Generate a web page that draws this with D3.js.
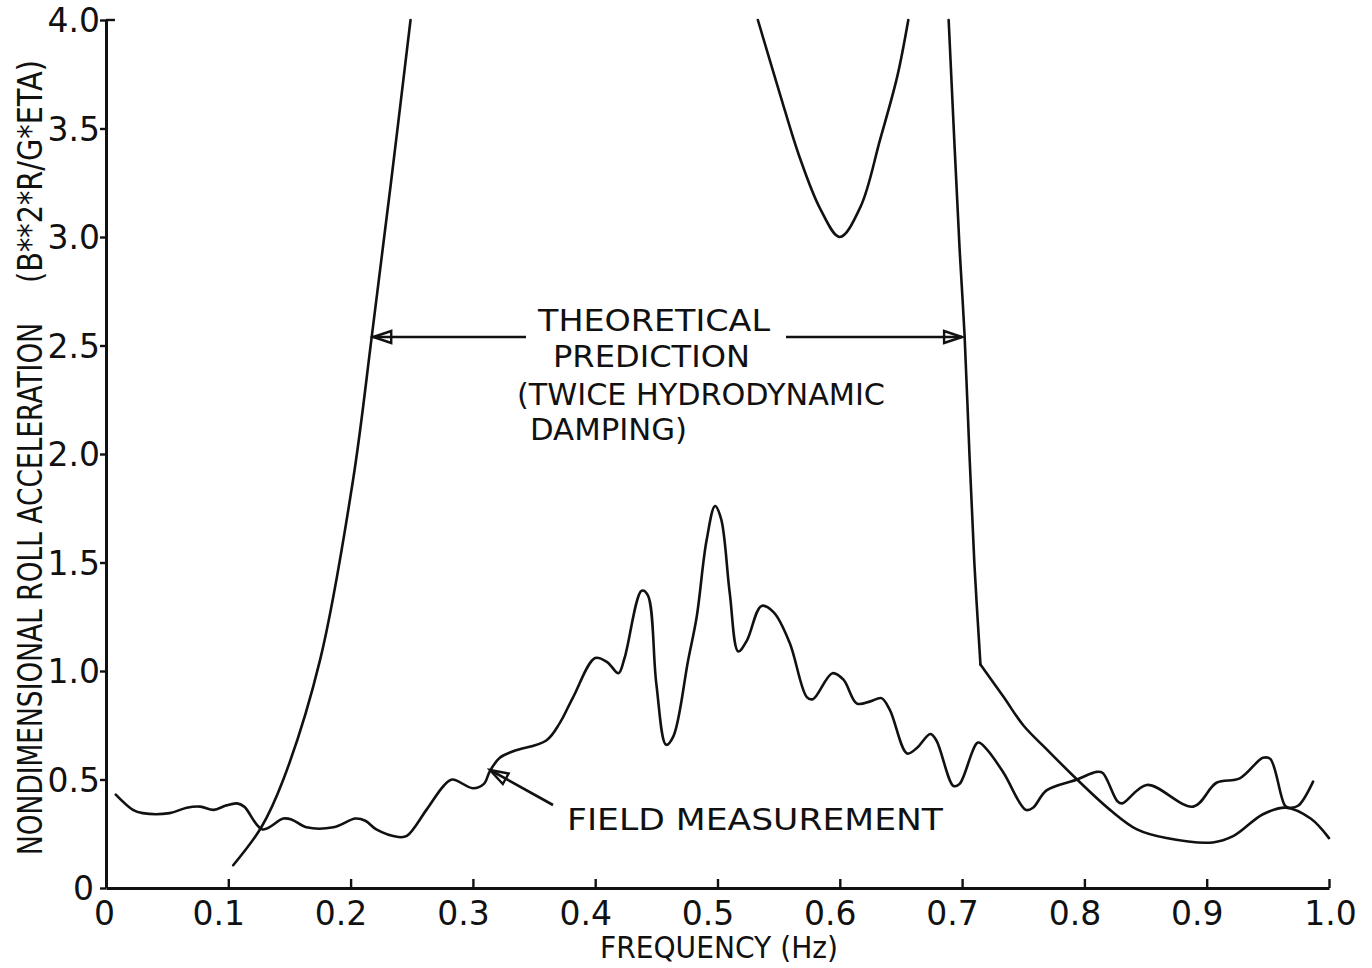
<!DOCTYPE html>
<html><head><meta charset="utf-8">
<script src="https://cdn.jsdelivr.net/npm/d3@7"></script>
<style>
body{margin:0;background:#fff}
svg{display:block}
text{font-family:"DejaVu Sans","Liberation Sans",sans-serif;fill:#111}
</style>
</head><body>
<svg id="c" width="1372" height="968"></svg>
<script>
// ---- data ----
const xTicks = [0, 0.1, 0.2, 0.3, 0.4, 0.5, 0.6, 0.7, 0.8, 0.9, 1.0];
const xTickLabels = ["0", "0.1", "0.2", "0.3", "0.4", "0.5", "0.6", "0.7", "0.8", "0.9", "1.0"];
const yTicks = [0, 0.5, 1.0, 1.5, 2.0, 2.5, 3.0, 3.5, 4.0];
const yTickLabels = ["0", "0.5", "1.0", "1.5", "2.0", "2.5", "3.0", "3.5", "4.0"];

// theoretical prediction (twice hydrodynamic damping), visible pieces
const theoryLeft = [[0.104,0.105],[0.127,0.28],[0.145,0.50],[0.175,1.05],[0.202,1.88],
  [0.2175,2.55],[0.233,3.25],[0.249,4.0]];
const theoryMid = [[0.533,4.0],[0.551,3.66],[0.567,3.37],[0.584,3.13],[0.600,3.0],[0.617,3.14],
  [0.633,3.45],[0.647,3.74],[0.656,4.0]];
const theoryRightDrop = [[0.689,4.0],[0.698,2.94],[0.702,2.55],[0.706,2.0],[0.710,1.5],[0.715,1.03]];
const theoryRightTail = [[0.715,1.03],[0.734,0.88],[0.75,0.75],[0.769,0.64],[0.794,0.50],[0.821,0.36],
  [0.843,0.27],[0.867,0.23],[0.905,0.21],[0.922,0.24],[0.946,0.34],[0.965,0.37],[0.985,0.32],[1.0,0.23]];

// field measurement
const field = [[0.008,0.43],[0.022,0.36],[0.03,0.345],[0.052,0.345],[0.066,0.37],[0.077,0.375],
  [0.088,0.36],[0.098,0.38],[0.107,0.39],[0.113,0.375],[0.128,0.27],[0.145,0.32],[0.152,0.315],
  [0.164,0.28],[0.186,0.28],[0.204,0.32],[0.212,0.31],[0.221,0.27],[0.239,0.235],[0.246,0.24],
  [0.262,0.36],[0.276,0.47],[0.283,0.50],[0.30,0.46],[0.309,0.48],[0.314,0.54],[0.322,0.60],
  [0.333,0.63],[0.36,0.68],[0.371,0.76],[0.382,0.88],[0.40,1.06],[0.41,1.04],[0.419,0.99],
  [0.424,1.06],[0.438,1.37],[0.443,1.35],[0.45,0.94],[0.458,0.66],[0.464,0.70],[0.476,1.05],
  [0.483,1.25],[0.491,1.6],[0.498,1.76],[0.503,1.70],[0.51,1.36],[0.517,1.09],[0.524,1.14],
  [0.536,1.30],[0.546,1.27],[0.559,1.13],[0.573,0.88],[0.578,0.87],[0.594,0.99],[0.603,0.96],
  [0.614,0.85],[0.625,0.86],[0.634,0.875],[0.641,0.82],[0.655,0.62],[0.663,0.645],[0.674,0.71],
  [0.679,0.68],[0.693,0.47],[0.698,0.48],[0.713,0.67],[0.72,0.64],[0.734,0.53],[0.752,0.36],
  [0.758,0.37],[0.769,0.45],[0.794,0.50],[0.81,0.535],[0.815,0.53],[0.827,0.40],[0.831,0.39],
  [0.851,0.475],[0.889,0.375],[0.908,0.485],[0.927,0.505],[0.946,0.60],[0.952,0.595],[0.964,0.38],
  [0.968,0.37],[0.975,0.38],[0.987,0.49]];

// ---- drawing ----
const svg = d3.select("#c");
const x = d3.scaleLinear().domain([0, 1]).range([106, 1329]);
const y = d3.scaleLinear().domain([0, 4]).range([888, 20]);

svg.append("defs").append("clipPath").attr("id","plot")
  .append("rect").attr("x",106).attr("y",18).attr("width",1226).attr("height",872);

const smooth = d3.line().x(d => x(d[0])).y(d => y(d[1])).curve(d3.curveCatmullRom.alpha(0.5));
const g = svg.append("g").attr("clip-path","url(#plot)");
[theoryLeft, theoryMid, theoryRightDrop, theoryRightTail, field].forEach(s => {
  g.append("path").attr("d", smooth(s)).attr("fill","none").attr("stroke","#111")
    .attr("stroke-width",2.6).attr("stroke-linejoin","round").attr("stroke-linecap","round");
});

// x axis
const xa = svg.append("g").attr("transform","translate(0,888)")
  .call(d3.axisBottom(x).tickValues(xTicks).tickSize(-9).tickSizeOuter(0)
    .tickFormat((d,i) => xTickLabels[i]));
xa.select(".domain").attr("stroke","#111").attr("stroke-width",3);
xa.selectAll(".tick line").attr("stroke","#111").attr("stroke-width",2.4);
xa.selectAll(".tick text").attr("font-size",33).attr("fill","#111")
  .attr("y",37).attr("dy",0)
  .attr("dx",(d,i) => xTickLabels[i].startsWith("0.") ? -10 : (i===0 ? -2 : 1))
  .attr("font-family","DejaVu Sans, sans-serif");

// y axis
const ya = svg.append("g").attr("transform","translate(106,0)")
  .call(d3.axisLeft(y).tickValues(yTicks).tickSize(6).tickSizeOuter(0)
    .tickFormat((d,i) => yTickLabels[i]));
ya.select(".domain").attr("stroke","#111").attr("stroke-width",3);
ya.selectAll(".tick line").attr("stroke","#111").attr("stroke-width",2.4);
ya.selectAll(".tick text").attr("font-size",33).attr("fill","#111")
  .attr("x",(d,i) => i===0 ? -12 : -6).attr("dy","0.36em").attr("font-family","DejaVu Sans, sans-serif");
// top cap of y axis
svg.append("line").attr("x1",x(0)).attr("x2",x(0)+9).attr("y1",y(4)).attr("y2",y(4))
  .attr("stroke","#111").attr("stroke-width",2.4);

// axis titles
svg.append("text").attr("x",600).attr("y",958).attr("font-size",30)
  .attr("textLength",238).attr("lengthAdjust","spacingAndGlyphs").text("FREQUENCY (Hz)");
svg.append("text").attr("transform","translate(42,855) rotate(-90)").attr("font-size",33)
  .attr("textLength",532).attr("lengthAdjust","spacingAndGlyphs").text("NONDIMENSIONAL ROLL ACCELERATION");
svg.append("text").attr("transform","translate(42,283) rotate(-90)").attr("font-size",33)
  .attr("textLength",223).attr("lengthAdjust","spacingAndGlyphs").text("(B**2*R/G*ETA)");

// annotations
const ann = [
  ["THEORETICAL", 538, 331, 232],
  ["PREDICTION", 553, 367, 197],
  ["(TWICE HYDRODYNAMIC", 517, 405, 368],
  ["DAMPING)", 530, 440, 157],
  ["FIELD MEASUREMENT", 567, 830, 376]
];
ann.forEach(a => svg.append("text").attr("x",a[1]).attr("y",a[2]).attr("font-size",31)
  .attr("textLength",a[3]).attr("lengthAdjust","spacingAndGlyphs").text(a[0]));

function arrow(x1,y1,x2,y2){ // tail -> tip
  const ang = Math.atan2(y2-y1, x2-x1), L = 18, W = 6;
  const bx = x2 - L*Math.cos(ang), by = y2 - L*Math.sin(ang);
  const px = -Math.sin(ang)*W, py = Math.cos(ang)*W;
  svg.append("line").attr("x1",x1).attr("y1",y1).attr("x2",x2).attr("y2",y2)
    .attr("stroke","#111").attr("stroke-width",2.6);
  svg.append("path").attr("d",`M${x2},${y2}L${bx+px},${by+py}L${bx-px},${by-py}Z`)
    .attr("fill","none").attr("stroke","#111").attr("stroke-width",2.4).attr("stroke-linejoin","miter");
}
arrow(526,337, x(0.2185),337);
arrow(786,337, x(0.700),337);
arrow(553,805, 490,770);
</script>
</body></html>
